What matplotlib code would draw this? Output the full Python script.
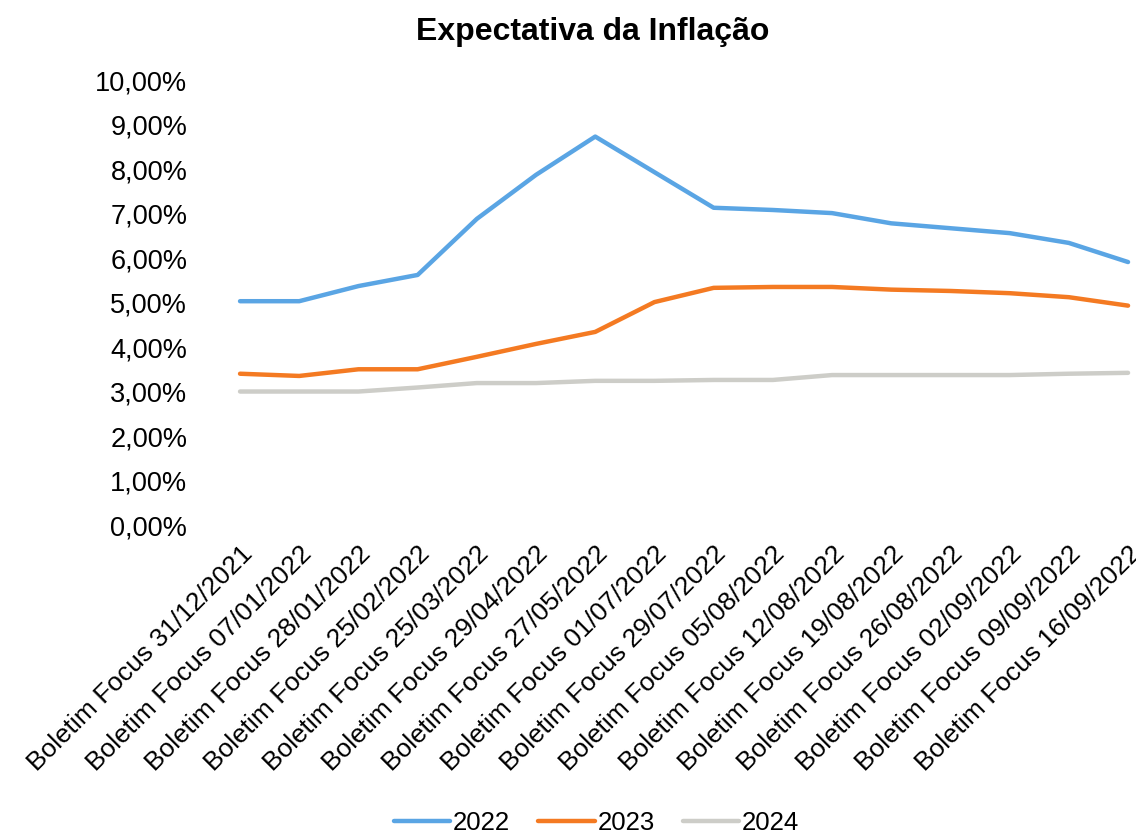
import matplotlib.pyplot as plt
import numpy as np

plt.rcParams['font.family'] = ['Liberation Sans', 'DejaVu Sans']

datas = ["31/12/2021", "07/01/2022", "28/01/2022", "25/02/2022", "25/03/2022",
         "29/04/2022", "27/05/2022", "01/07/2022", "29/07/2022", "05/08/2022",
         "12/08/2022", "19/08/2022", "26/08/2022", "02/09/2022", "09/09/2022",
         "16/09/2022"]
categorias = ["Boletim Focus " + d for d in datas]

ipca_2022 = [5.03, 5.03, 5.37, 5.62, 6.88, 7.87, 8.73, 7.93, 7.13, 7.08,
             7.01, 6.78, 6.67, 6.56, 6.34, 5.91]
ipca_2023 = [3.40, 3.35, 3.50, 3.50, 3.78, 4.07, 4.34, 5.01, 5.33, 5.35,
             5.35, 5.29, 5.26, 5.21, 5.12, 4.93]
ipca_2024 = [3.00, 3.00, 3.00, 3.09, 3.19, 3.19, 3.24, 3.24, 3.26, 3.26,
             3.37, 3.37, 3.37, 3.37, 3.40, 3.42]

series = [("2022", ipca_2022, "#5AA5E4"),
          ("2023", ipca_2023, "#F47A22"),
          ("2024", ipca_2024, "#CDCDC8")]

fig = plt.figure(figsize=(11.36, 8.34), dpi=100)
ax = fig.add_axes([0.2113, 0.3705, 0.7817, 0.5335])

x = np.arange(len(categorias))
for nome, valores, cor in series:
    ax.plot(x, valores, color=cor, lw=3.2, label=nome, clip_on=False,
            solid_capstyle='round', solid_joinstyle='round')

ax.set_xlim(0, len(categorias) - 1)
ax.set_ylim(0, 10)
yticks = np.arange(0, 11, 1)
ax.set_yticks(yticks)
ax.set_yticklabels([f"{v:.2f}%".replace(".", ",") for v in yticks], fontsize=19.5)
ax.set_xticks(x)
ax.set_xticklabels(categorias, rotation=45, ha='right', rotation_mode='anchor',
                   fontsize=19)
ax.tick_params(axis='y', length=0, pad=38)
ax.tick_params(axis='x', length=0, pad=12)
for s in ax.spines.values():
    s.set_visible(False)

fig.text(0.522, 0.962, "Expectativa da Inflação", fontsize=23, fontweight='bold',
         ha='center', va='center')

fig.legend(loc='center', ncol=3, frameon=False, fontsize=18.5,
           bbox_to_anchor=(0.525, 0.013), handlelength=2.2, handletextpad=0.1,
           columnspacing=1.1)

fig.savefig("out.png", dpi=100)
